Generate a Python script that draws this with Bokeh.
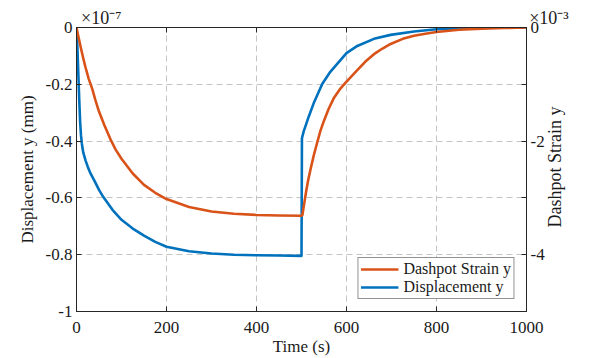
from bokeh.plotting import figure
from bokeh.models import Range1d, LinearAxis, FixedTicker, Legend, LegendItem
from bokeh.embed import file_html
from bokeh.resources import INLINE
import math

# ---- data ----
# Displacement y, units of 1e-7 mm (left axis)
t_disp = [0, 2, 4, 6, 8, 10, 12, 15, 20, 25, 30, 40, 50, 60, 80, 100, 125, 150, 175, 200,
          250, 300, 350, 400, 450, 500, 501, 505, 510, 516, 527, 546, 564, 600, 624, 661,
          698, 750, 800, 850, 900, 950, 1000]
disp = [0, -0.07, -0.16, -0.25, -0.33, -0.38, -0.41, -0.44, -0.468, -0.49, -0.51, -0.54,
        -0.572, -0.598, -0.642, -0.677, -0.708, -0.733, -0.755, -0.772, -0.788, -0.796,
        -0.800, -0.802, -0.803, -0.804, -0.39, -0.365, -0.342, -0.314, -0.267, -0.199, -0.156,
        -0.090, -0.065, -0.040, -0.026, -0.014, -0.006, -0.003, -0.001, -0.0005, 0]

# Dashpot Strain y, units of 1e-3 (right axis)
t_dash = [0, 5, 10, 15, 20, 27, 35, 42, 50, 62, 75, 87, 100, 125, 150, 175, 200, 250, 300,
          350, 400, 450, 500, 502, 506, 510, 515, 520, 527, 535, 542, 550, 560, 572, 585, 598,
          611, 624, 642, 661, 680, 698, 725, 750, 775, 800, 850, 900, 950, 1000]
dash = [0, -0.19, -0.37, -0.54, -0.70, -0.90, -1.08, -1.28, -1.48, -1.72, -1.96, -2.15,
        -2.31, -2.57, -2.77, -2.91, -3.02, -3.16, -3.24, -3.28, -3.30, -3.31, -3.315, -3.30,
        -3.10, -2.90, -2.68, -2.50, -2.26, -2.02, -1.82, -1.64, -1.44, -1.24, -1.09, -0.97,
        -0.86, -0.75, -0.60, -0.47, -0.37, -0.29, -0.20, -0.145, -0.11, -0.08, -0.04, -0.02,
        -0.01, 0]

x_ticks = [0, 200, 400, 600, 800, 1000]
x_tick_labels = ["0", "200", "400", "600", "800", "1000"]
y_ticks = [-1, -0.8, -0.6, -0.4, -0.2, 0]
y_tick_labels = ["-1", "-0.8", "-0.6", "-0.4", "-0.2", "0"]
r_ticks = [-5, -4, -3, -2, -1, 0]
r_tick_labels = ["", "-4", "", "-2", "", "0"]
left_exp = "\u00d710\u207b\u2077"     # x10^-7
right_exp = "\u00d710\u207b\u00b3"    # x10^-3
NB = "\u00a0"
top_labels = [NB * 11 + left_exp, "", "", "", "", NB * 10 + right_exp]
right_label_pos = [-3.52]             # where the rotated right-hand title starts
right_label_text = ["Dashpot Strain y"]

ORANGE = "#D95319"
BLUE = "#0072BD"
AX = "#262626"
TXT = "#1a1a1a"
FONT = "Liberation Serif"

p = figure(width=594, height=358, output_backend="svg", toolbar_location=None,
           x_range=Range1d(0, 1000), y_range=Range1d(-1, 0),
           min_border_left=76, min_border_right=68, min_border_top=27, min_border_bottom=45,
           background_fill_color="white", border_fill_color="white")
p.outline_line_color = AX
p.outline_line_width = 1
p.extra_y_ranges = {"right": Range1d(-5, 0)}

# grids
p.xgrid.ticker = FixedTicker(ticks=x_ticks)
p.ygrid.ticker = FixedTicker(ticks=y_ticks)
for g in (p.xgrid, p.ygrid):
    g.grid_line_color = "#c4c4c4"
    g.grid_line_dash = "6 4"
    g.grid_line_width = 1

def style_axis(ax, size="17px"):
    ax.axis_line_color = AX
    ax.major_tick_line_color = AX
    ax.major_tick_in = 5
    ax.major_tick_out = 0
    ax.minor_tick_line_color = None
    ax.major_label_text_font = FONT
    ax.major_label_text_font_size = size
    ax.major_label_text_color = TXT
    ax.axis_label_text_font = FONT
    ax.axis_label_text_font_size = "17px"
    ax.axis_label_text_font_style = "normal"
    ax.axis_label_text_color = TXT

xa = p.xaxis[0]
style_axis(xa)
xa.ticker = FixedTicker(ticks=x_ticks)
xa.major_label_overrides = dict(zip(x_ticks, x_tick_labels))
xa.major_label_standoff = 10
xa.axis_label = "Time (s)"
xa.axis_label_standoff = 1

ya = p.yaxis[0]
style_axis(ya)
ya.ticker = FixedTicker(ticks=y_ticks)
ya.major_label_overrides = dict(zip(y_ticks, y_tick_labels))
ya.major_label_standoff = 4
ya.axis_label = "Displacement y (mm)"
ya.axis_label_standoff = 6

ra = LinearAxis(y_range_name="right", ticker=FixedTicker(ticks=r_ticks))
style_axis(ra)
ra.major_label_overrides = dict(zip(r_ticks, r_tick_labels))
ra.major_label_standoff = 4
p.add_layout(ra, "right")

# right-hand axis title, reading bottom-to-top like the left one
ra2 = LinearAxis(y_range_name="right", ticker=FixedTicker(ticks=right_label_pos))
style_axis(ra2, size="18px")
ra2.axis_line_color = None
ra2.major_tick_line_color = None
ra2.major_tick_in = 0
ra2.major_label_overrides = dict(zip(right_label_pos, right_label_text))
ra2.major_label_orientation = math.pi / 2
ra2.major_label_standoff = 8
p.add_layout(ra2, "right")

ta = LinearAxis(ticker=FixedTicker(ticks=x_ticks))
style_axis(ta, size="18px")
ta.major_label_overrides = dict(zip(x_ticks, top_labels))
ta.major_label_standoff = 0
p.add_layout(ta, "above")

# curves
rb = p.line(t_disp, disp, line_color=BLUE, line_width=2.6, line_join="round")
ro = p.line(t_dash, dash, line_color=ORANGE, line_width=2.6, line_join="round",
            y_range_name="right")

legend = Legend(items=[LegendItem(label="Dashpot Strain y", renderers=[ro]),
                       LegendItem(label="Displacement y", renderers=[rb])],
                location="bottom_right", margin=12, padding=2, spacing=-3,
                label_height=16, glyph_height=16, glyph_width=38, label_standoff=5,
                label_text_font=FONT, label_text_font_size="16px", label_text_color=TXT,
                border_line_color=AX, border_line_width=1,
                background_fill_color="white", background_fill_alpha=1)
p.add_layout(legend, "center")

open("out.html", "w").write(file_html(p, INLINE))
